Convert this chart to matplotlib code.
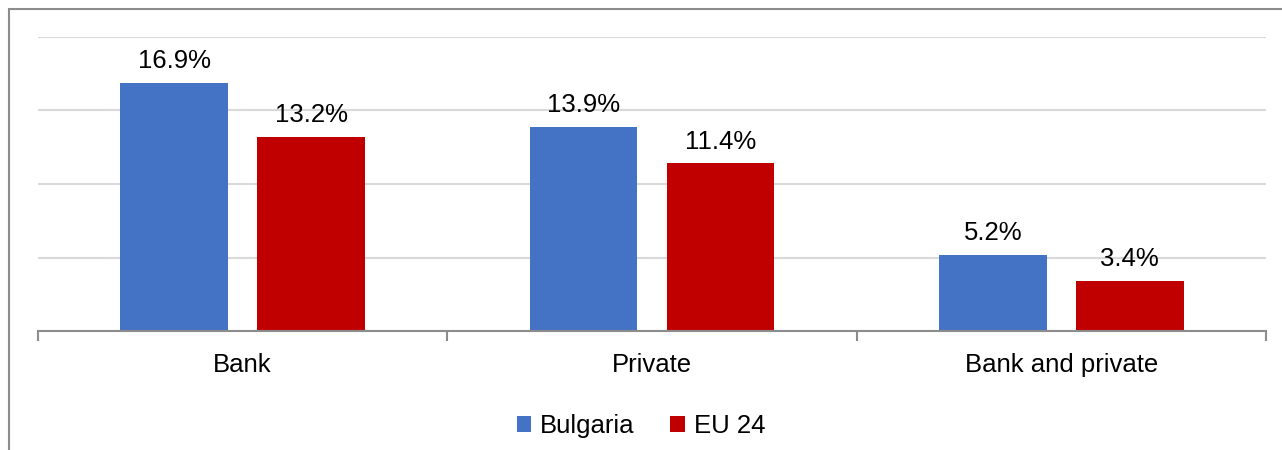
import matplotlib
matplotlib.use("Agg")
import matplotlib.pyplot as plt
from matplotlib.patches import Rectangle
import numpy as np

categories = ["Bank", "Private", "Bank and private"]
bulgaria = [16.9, 13.9, 5.2]
eu24 = [13.2, 11.4, 3.4]
series_names = ["Bulgaria", "EU 24"]

plt.rcParams["font.family"] = ["Liberation Sans", "DejaVu Sans"]

fig = plt.figure(figsize=(12.82, 4.5), dpi=100)
ax = fig.add_axes([38 / 1282, 1 - 331 / 450, (1266 - 38) / 1282, (331 - 37) / 450])

x = np.arange(len(categories))
width = 0.263
offset = 0.167
blue, red = "#4472C4", "#C00000"

b1 = ax.bar(x - offset, bulgaria, width, color=blue, label=series_names[0], zorder=3)
b2 = ax.bar(x + offset, eu24, width, color=red, label=series_names[1], zorder=3)

for bars, vals in ((b1, bulgaria), (b2, eu24)):
    for bar, v in zip(bars, vals):
        ax.annotate(f"{v:.1f}%", (bar.get_x() + bar.get_width() / 2, v),
                    textcoords="offset points", xytext=(0, 7),
                    ha="center", va="bottom", fontsize=18.5, color="#000000")

ax.set_xlim(-0.5, len(categories) - 0.5)
ax.set_ylim(0, 20)
ax.set_yticks([0, 5, 10, 15, 20])
ax.yaxis.grid(True, color="#d9d9d9", linewidth=1.5, zorder=0)
ax.tick_params(axis="y", length=0, labelleft=False)

ax.set_xticks(x)
ax.set_xticklabels(categories, fontsize=18.5)
ax.tick_params(axis="x", which="major", length=0, pad=16)
ax.set_xticks(np.arange(len(categories) + 1) - 0.5, minor=True)
ax.tick_params(axis="x", which="minor", length=7, width=1.5, color="#8c8c8c")

for side in ("top", "right", "left"):
    ax.spines[side].set_visible(False)
ax.spines["bottom"].set_color("#8c8c8c")
ax.spines["bottom"].set_linewidth(1.5)
ax.spines["bottom"].set_zorder(4)

fig.legend(handles=[b1, b2], loc="center", bbox_to_anchor=(0.5, 1 - 426 / 450),
           ncol=2, frameon=False, fontsize=18.5, handlelength=0.55, handleheight=0.55,
           handletextpad=0.35, columnspacing=1.4)

# outer chart frame, runs past the right and bottom edges
fig.add_artist(Rectangle((9 / 1282, -0.1), 1.2, 1 - 9 / 450 + 0.1,
                         transform=fig.transFigure, fill=False,
                         edgecolor="#8c8c8c", linewidth=1.5))

fig.savefig("out.png", dpi=100)
